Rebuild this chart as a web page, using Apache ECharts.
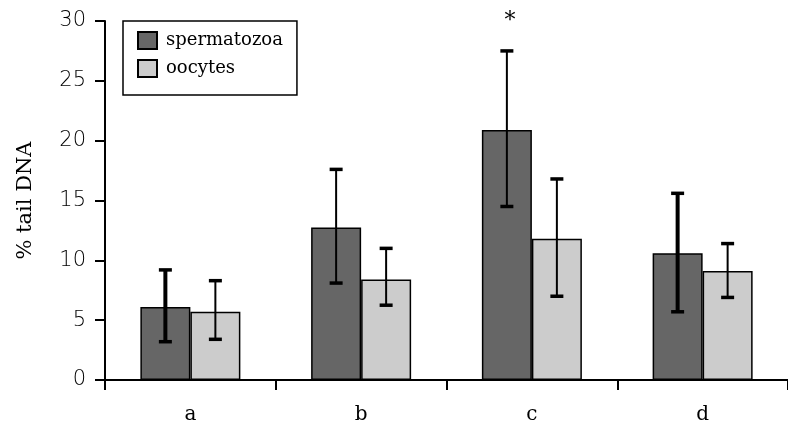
<!DOCTYPE html>
<html>
<head>
<meta charset="utf-8">
<script src="https://cdn.jsdelivr.net/npm/echarts@6/dist/echarts.min.js"></script>
<style>
html,body{margin:0;padding:0;background:#fff;}
#chart{width:788px;height:425px;}
</style>
</head>
<body>
<div id="chart"></div>
<script>
// ---- data ----
const categories = ['a', 'b', 'c', 'd'];
const seriesNames = ['spermatozoa', 'oocytes'];
const spermMean = [6.1, 12.75, 20.9, 10.6];
const spermErrLow = [3.2, 8.1, 14.5, 5.7];
const spermErrHigh = [9.2, 17.6, 27.5, 15.6];
const oocyteMean = [5.7, 8.4, 11.8, 9.1];
const oocyteErrLow = [3.4, 6.25, 7.0, 6.9];
const oocyteErrHigh = [8.3, 11.0, 16.8, 11.4];
const sigMarks = ['', '', '*', ''];
const yTicks = [0, 5, 10, 15, 20, 25, 30];

// ---- rendering ----
const serif = "'DejaVu Serif', 'Liberation Serif', serif";
const numFont = "'DejaVu Sans ExtraLight', 'DejaVu Sans Light', 'DejaVu Sans', sans-serif";
const BAR_W = 50;
const heavyBars = { 'spermatozoa': [0, 3] };

function errorRender(offsetSign, name) {
  return function (params, api) {
    const idx = api.value(0);
    const cx = api.coord([idx, 0])[0] + offsetSign * BAR_W / 2;
    const yLo = api.coord([idx, api.value(1)])[1];
    const yHi = api.coord([idx, api.value(2)])[1];
    const heavy = (heavyBars[name] || []).indexOf(idx) >= 0;
    const lw = heavy ? 4 : 2;
    const half = 6.5;
    const style = { stroke: '#000', lineWidth: lw };
    return {
      type: 'group',
      children: [
        { type: 'line', shape: { x1: cx, y1: yLo, x2: cx, y2: yHi }, style: style },
        { type: 'line', shape: { x1: cx - half, y1: yHi, x2: cx + half, y2: yHi }, style: { stroke: '#000', lineWidth: 3.5 } },
        { type: 'line', shape: { x1: cx - half, y1: yLo, x2: cx + half, y2: yLo }, style: { stroke: '#000', lineWidth: 3.5 } }
      ]
    };
  };
}

const chart = echarts.init(document.getElementById('chart'), null, { renderer: 'canvas' });
const option = {
  animation: false,
  backgroundColor: '#fff',
  grid: { left: 105, top: 21, width: 693, height: 360, containLabel: false },
  legend: {
    orient: 'vertical',
    left: 123,
    top: 21,
    data: seriesNames,
    icon: 'rect',
    itemWidth: 19,
    itemHeight: 17,
    itemGap: 9,
    padding: [10, 14, 17, 14],
    borderColor: '#000',
    borderWidth: 1.5,
    backgroundColor: '#fff',
    textStyle: { fontFamily: serif, fontSize: 18, color: '#000', lineHeight: 17, padding: [0, 0, 0, 4] }
  },
  xAxis: {
    type: 'category',
    data: categories,
    axisLine: { lineStyle: { color: '#000', width: 2 } },
    axisTick: { show: true, length: 10, alignWithLabel: false, lineStyle: { color: '#000', width: 2 } },
    axisLabel: { fontFamily: serif, fontSize: 20, color: '#000', margin: 25 },
    splitLine: { show: false }
  },
  yAxis: {
    type: 'value',
    min: yTicks[0],
    max: yTicks[yTicks.length - 1],
    interval: yTicks[1] - yTicks[0],
    name: '% tail DNA',
    nameLocation: 'middle',
    nameGap: 69,
    nameRotate: 90,
    nameTextStyle: { fontFamily: serif, fontSize: 21, color: '#000' },
    axisLine: { show: true, lineStyle: { color: '#000', width: 2 } },
    axisTick: { show: true, length: 10, lineStyle: { color: '#000', width: 2 } },
    axisLabel: { fontFamily: numFont, fontSize: 21, color: '#000', margin: 19 },
    splitLine: { show: false }
  },
  series: [
    {
      name: seriesNames[0],
      type: 'bar',
      data: spermMean,
      barWidth: BAR_W,
      barGap: '0%',
      itemStyle: { color: '#666666', borderColor: '#000', borderWidth: 1.5 },
      z: 2
    },
    {
      name: seriesNames[1],
      type: 'bar',
      data: oocyteMean,
      barWidth: BAR_W,
      barGap: '0%',
      itemStyle: { color: '#cccccc', borderColor: '#000', borderWidth: 1.5 },
      z: 2
    },
    {
      type: 'custom',
      name: 'err-sperm',
      renderItem: errorRender(-1, 'spermatozoa'),
      data: categories.map((c, i) => [i, spermErrLow[i], spermErrHigh[i]]),
      z: 5,
      clip: false,
      silent: true
    },
    {
      type: 'custom',
      name: 'err-oocyte',
      renderItem: errorRender(1, 'oocytes'),
      data: categories.map((c, i) => [i, oocyteErrLow[i], oocyteErrHigh[i]]),
      z: 5,
      clip: false,
      silent: true
    },
    {
      type: 'custom',
      name: 'sig',
      renderItem: function (params, api) {
        const idx = api.value(0);
        const mark = sigMarks[idx];
        if (!mark) return null;
        const p = api.coord([idx, yTicks[yTicks.length - 1]]);
        return {
          type: 'text',
          style: {
            text: mark, x: p[0] - BAR_W / 2 + 3, y: p[1],
            align: 'center', verticalAlign: 'middle',
            font: "22px " + serif, fill: '#000'
          }
        };
      },
      data: categories.map((c, i) => [i]),
      z: 6,
      clip: false,
      silent: true
    }
  ]
};
chart.setOption(option);
</script>
</body>
</html>
